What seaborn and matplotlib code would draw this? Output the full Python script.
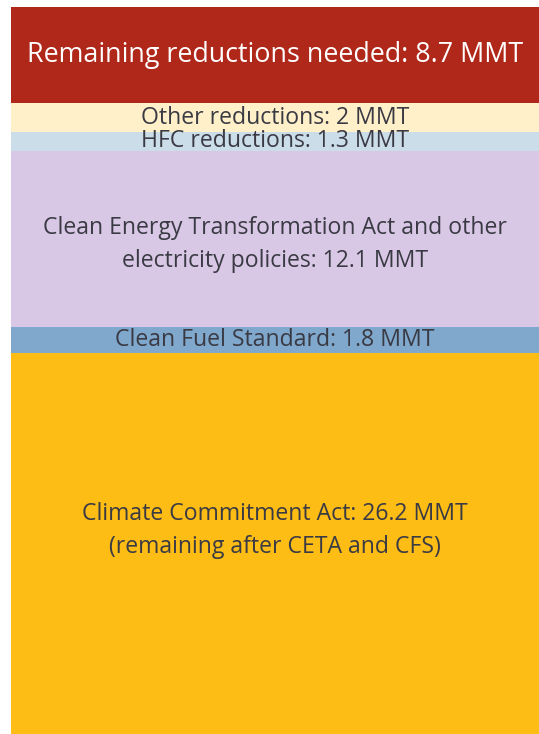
import matplotlib
matplotlib.use("Agg")
import matplotlib.pyplot as plt
import seaborn as sns

categories = [
    "Climate Commitment Act",
    "Clean Fuel Standard",
    "Clean Energy Transformation Act and other electricity policies",
    "HFC reductions",
    "Other reductions",
    "Remaining reductions needed",
]
values = [26.2, 1.8, 12.1, 1.3, 2, 8.7]
labels = [
    "Climate Commitment Act: 26.2 MMT\n(remaining after CETA and CFS)",
    "Clean Fuel Standard: 1.8 MMT",
    "Clean Energy Transformation Act and other\nelectricity policies: 12.1 MMT",
    "HFC reductions: 1.3 MMT",
    "Other reductions: 2 MMT",
    "Remaining reductions needed: 8.7 MMT",
]
colors = ["#FDBD14", "#7FA8CC", "#D9C8E5", "#CCDDEA", "#FFF0C9", "#B0281A"]
text_colors = ["#3A3A44"] * 5 + ["#FFFFFF"]

sns.set_theme(style="white")
plt.rcParams["font.family"] = ["Open Sans", "DejaVu Sans"]

fig = plt.figure(figsize=(5.39, 7.34), dpi=100)
ax = fig.add_axes([11 / 539, 0, 1 - 11 / 539, 727 / 734])

ymax = 50
bottom = 0
for i, (v, c) in enumerate(zip(values, colors)):
    sns.barplot(x=[0], y=[v], bottom=bottom, color=c, width=1.0,
                saturation=1, ax=ax, linewidth=0)
    top = min(bottom + v, ymax)
    yc = (bottom + top) / 2
    if i == 0:
        yc += 0.9
    elif i == 2:
        yc -= 0.4
    size = 19.4 if i == 5 else 16.6
    ax.text(0, yc, labels[i], ha="center", va="center", fontsize=size,
            color=text_colors[i], linespacing=1.5)
    bottom += v

ax.set_xlim(-0.5, 0.5)
ax.set_ylim(0, ymax)
ax.set_axis_off()
fig.savefig("out.png", dpi=100)
